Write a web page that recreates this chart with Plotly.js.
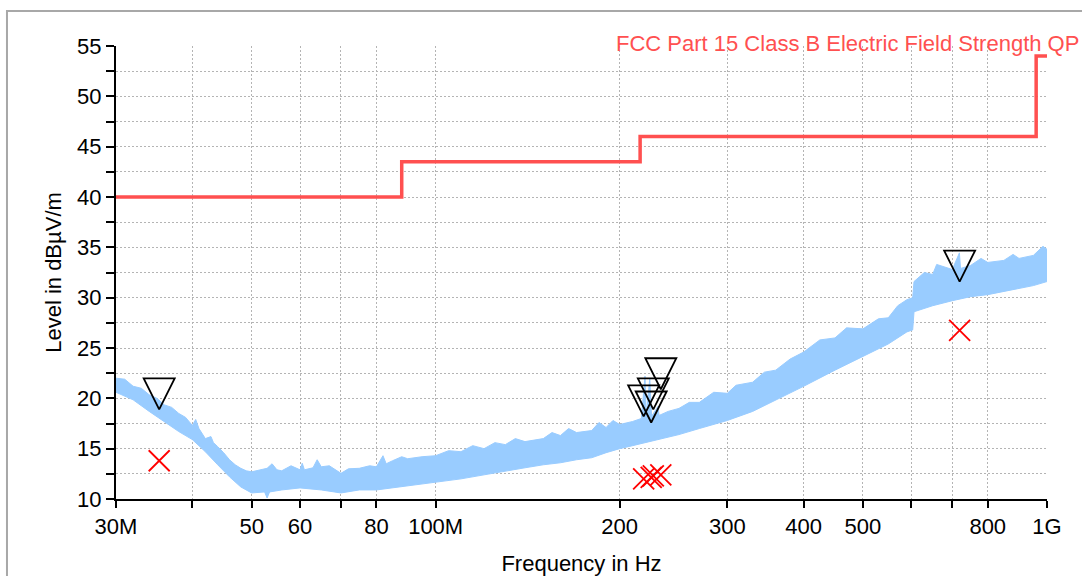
<!DOCTYPE html>
<html>
<head>
<meta charset="utf-8">
<script src="https://cdn.plot.ly/plotly-3.0.1.min.js"></script>
<style>
html,body{margin:0;padding:0;background:#fff;}
#chart{width:1082px;height:576px;}
</style>
</head>
<body>
<div id="chart"></div>
<script>
// ---- data (frequency in MHz, level in dBµV/m) ----
const lowFreq = [30,32,34,36,38,40,42,44,46,48,50,52.5,53,53.5,56,60,65,70,75,80,85,90,95,100,110,120,130,140,150,160,170,180,190,200,210,220,230,240,250,270,300,330,360,400,450,500,550,590,603,606,650,700,750,800,850,900,950,1000];
const lowLevel = [20.6,19.85,18.7,17.7,16.7,15.9,14.7,13.4,12.2,11.2,10.6,10.7,10.1,10.7,10.9,11.1,10.9,10.6,10.9,10.9,11.1,11.3,11.5,11.7,12.0,12.4,12.8,13.1,13.4,13.6,13.9,14.1,14.6,15.0,15.3,15.6,15.9,16.1,16.4,17.0,17.8,18.7,19.8,21.2,22.8,24.2,25.4,26.6,26.8,28.6,29.2,29.7,30.1,30.3,30.6,30.9,31.2,31.6];

const highFreq = [30,31,32,33,34,35,36,37,38,39,40,40.5,41,42,42.9,43.3,44,45,46,47,48,49,50,52,53,54,55,56,58,60,60.5,61,63,64,65,67,70,72,75,78,80,82,83,85,88,90,95,100,105,110,115,120,125,130,135,140,150,155,160,165,170,180,185,190,195,200,210,217,220,221,224,225.5,231,232,240,250,260,270,285,300,310,330,345,360,380,400,425,450,470,500,530,550,570,590,603,606,630,650,660,700,719,722,750,780,800,850,880,900,950,985,1000];
const highLevel = [22.0,21.9,21.2,21.0,20.35,20.0,19.35,19.1,18.5,18.1,17.3,17.9,17.0,16.0,16.2,15.6,15.2,14.6,13.9,13.4,13.05,12.8,12.7,12.9,13.05,13.5,12.9,12.8,13.3,12.9,13.55,12.9,13.1,13.9,13.2,13.3,12.55,13.0,13.05,13.3,13.2,14.3,13.5,13.8,14.2,14.0,14.2,14.3,14.8,14.7,15.3,15.0,15.6,15.4,16.0,15.7,16.0,16.6,16.3,17.0,16.6,16.8,17.6,17.1,17.8,17.4,17.7,18.0,22.2,18.2,22.0,18.2,19.2,18.3,18.7,19.0,19.6,19.6,20.6,20.5,21.3,21.6,22.6,22.8,23.9,24.6,25.8,26.0,27.0,26.9,27.9,28.0,29.2,29.8,30.0,31.6,32.5,32.3,33.3,32.8,34.45,32.9,33.2,33.9,33.5,33.7,34.3,33.9,34.2,35.1,34.8];

const limitFreq = [30, 88, 216, 960, 1000];
const limitLevel = [40, 43.5, 46, 54, 54];

const peakFreq = [35.3, 218.9, 225.2, 227.0, 233.5, 719.6];
const peakLevel = [18.9, 18.2, 17.6, 18.9, 20.9, 31.6];

const qpFreq = [35.3, 218.9, 225.2, 227.0, 233.5, 719.6];
const qpLevel = [13.8, 12.0, 12.15, 12.3, 12.4, 26.75];

const xTickVals = [30,40,50,60,70,80,100,200,300,400,500,600,700,800,1000];
const xTickText = ['30M','','50','60','','80','100M','200','300','400','500','','','800','1G'];
const yTickVals = [10,12.5,15,17.5,20,22.5,25,27.5,30,32.5,35,37.5,40,42.5,45,47.5,50,52.5,55];
const yTickText = ['10','','15','','20','','25','','30','','35','','40','','45','','50','','55'];

const limitName = 'FCC Part 15 Class B Electric Field Strength QP';

// ---- styles ----
const FONT = 'Liberation Sans, Arial, sans-serif';
const BAND = '#99ccff';
const LIMIT = '#ff5050';

const traces = [
  {x: lowFreq, y: lowLevel, mode: 'lines', line: {color: BAND, width: 1}, hoverinfo: 'skip'},
  {x: highFreq, y: highLevel, mode: 'lines', line: {color: BAND, width: 1}, fill: 'tonexty', fillcolor: BAND},
  {x: limitFreq, y: limitLevel, mode: 'lines', line: {color: LIMIT, width: 3.5, shape: 'hv'}, name: limitName},
  {x: peakFreq, y: peakLevel, mode: 'markers', marker: {symbol: 'arrow-down-open', size: 31, color: '#000', line: {color: '#000', width: 1.8}}},
  {x: qpFreq, y: qpLevel, mode: 'markers', marker: {symbol: 'x-thin-open', size: 21, color: '#ff0000', line: {color: '#ff0000', width: 1.8}}}
];

const xr = [Math.log10(30), 3];
const yr = [10, 55];

const layout = {
  width: 1082, height: 576,
  margin: {l: 116, r: 35, t: 46, b: 77},
  paper_bgcolor: '#fff', plot_bgcolor: '#fff',
  showlegend: false,
  font: {family: FONT, size: 22, color: '#000'},
  xaxis: {
    type: 'log', range: xr, tickvals: xTickVals, ticktext: xTickText,
    ticks: 'outside', ticklen: 7, tickwidth: 2, tickcolor: '#000',
    showline: true, linewidth: 2, linecolor: '#000',
    showgrid: true, gridcolor: '#b4b4b4', gridwidth: 1, griddash: '2px,2px',
    zeroline: false, tickfont: {family: FONT, size: 22, color: '#000'},
    title: {text: 'Frequency in Hz', font: {family: FONT, size: 22, color: '#000'}, standoff: 20}
  },
  xaxis2: {
    type: 'log', range: xr, tickvals: xTickVals, overlaying: 'x', anchor: 'y',
    ticks: 'inside', ticklen: 7, tickwidth: 2, tickcolor: '#000',
    showticklabels: false, showgrid: false, showline: false, zeroline: false
  },
  yaxis: {
    range: yr, tickvals: yTickVals, ticktext: yTickText,
    ticks: 'outside', ticklen: 8, tickwidth: 2, tickcolor: '#000',
    showline: true, linewidth: 2, linecolor: '#000',
    showgrid: true, gridcolor: '#b4b4b4', gridwidth: 1, griddash: '2px,2px',
    zeroline: false, tickfont: {family: FONT, size: 22, color: '#000'},
    title: {text: 'Level in dBµV/m', font: {family: FONT, size: 22, color: '#000'}, standoff: 9}
  },
  yaxis2: {
    range: yr, tickvals: yTickVals, overlaying: 'y', anchor: 'x', side: 'left',
    ticks: 'inside', ticklen: 7, tickwidth: 2, tickcolor: '#000',
    showticklabels: false, showgrid: false, showline: false, zeroline: false
  },
  annotations: [{
    text: limitName, xref: 'paper', yref: 'paper', x: 1.0365, y: 1.0066,
    xanchor: 'right', yanchor: 'middle', showarrow: false,
    font: {family: FONT, size: 22, color: LIMIT}
  }],
  shapes: [{
    type: 'rect', xref: 'paper', yref: 'paper',
    x0: -0.1171, x1: 1.3, y0: -0.4, y1: 1.0773,
    line: {color: '#a8a8a8', width: 2}, fillcolor: 'rgba(0,0,0,0)', layer: 'below'
  }]
};

Plotly.newPlot('chart', traces, layout, {staticPlot: true, displayModeBar: false});
</script>
</body>
</html>
